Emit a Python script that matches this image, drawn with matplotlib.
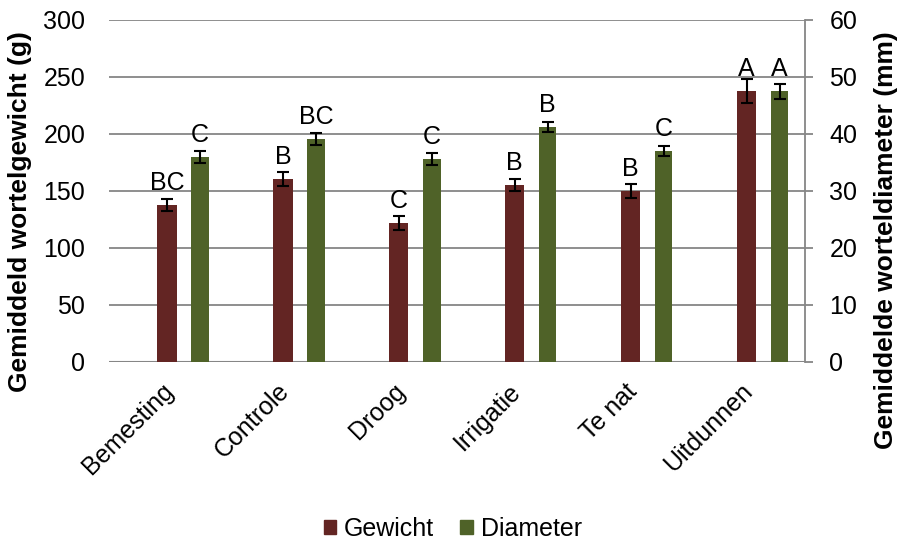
import numpy as np
import matplotlib
matplotlib.use('Agg')
import matplotlib.pyplot as plt
import matplotlib.transforms as mtransforms
from matplotlib.patches import Patch

plt.rcParams['font.family'] = ['Liberation Sans', 'DejaVu Sans']

# Data
categories = ['Bemesting', 'Controle', 'Droog', 'Irrigatie', 'Te nat', 'Uitdunnen']
gewicht = [137.5, 160.3, 121.7, 155.0, 149.7, 237.5]       # g
gewicht_err = [5.4, 6.4, 6.3, 5.5, 6.3, 10.5]
diameter = [35.9, 39.1, 35.6, 41.2, 37.0, 47.5]            # mm
diameter_err = [1.1, 1.1, 1.1, 0.9, 0.9, 1.3]
letters_gewicht = ['BC', 'B', 'C', 'B', 'B', 'A']
letters_diameter = ['C', 'BC', 'C', 'B', 'C', 'A']

RED = '#632523'
GREEN = '#4F6228'
GRID = '#868686'
FS = 18

fig = plt.figure(figsize=(9, 5.39), dpi=100)
ax = fig.add_axes([0.121, 0.329, 0.773, 0.634])
ax2 = ax.twinx()

x = np.arange(len(categories))

ax.bar(x, gewicht, width=0.167, color=RED, zorder=3)
ax.errorbar(x, gewicht, yerr=gewicht_err, fmt='none', ecolor='black',
            elinewidth=1.5, capsize=4.3, capthick=1.5, zorder=4)
ax2.bar(x + 0.285, diameter, width=0.15, color=GREEN, zorder=3)
ax2.errorbar(x + 0.285, diameter, yerr=diameter_err, fmt='none', ecolor='black',
             elinewidth=1.5, capsize=4.3, capthick=1.5, zorder=4)

for xi, v, lab in zip(x, gewicht, letters_gewicht):
    ax.annotate(lab, (xi, v), xytext=(0, 10.8), textcoords='offset points',
                ha='center', va='baseline', fontsize=FS)
for xi, v, lab in zip(x + 0.285, diameter, letters_diameter):
    ax2.annotate(lab, (xi, v), xytext=(0, 10.8), textcoords='offset points',
                 ha='center', va='baseline', fontsize=FS)

ax.set_xlim(-0.5, 5.5)
ax.set_ylim(0, 300)
ax2.set_ylim(0, 60)
ax.set_yticks(np.arange(0, 301, 50))
ax2.set_yticks(np.arange(0, 61, 10))

ax.yaxis.grid(True, color=GRID, linewidth=1.3, zorder=0)
ax.set_axisbelow(True)

for a in (ax, ax2):
    for s in ('top', 'left', 'bottom', 'right'):
        a.spines[s].set_visible(False)
ax2.spines['right'].set_visible(True)
ax2.spines['right'].set_color(GRID)
ax2.spines['right'].set_linewidth(1.3)
ax.axhline(0, color=GRID, linewidth=1.5, zorder=2)

ax.tick_params(axis='y', length=0, pad=17, labelsize=FS)
ax2.tick_params(axis='y', length=5.8, width=1.3, color=GRID, direction='out',
                pad=12, labelsize=FS)

ax.set_xticks(x)
ax.set_xticklabels(categories, rotation=45, ha='right', rotation_mode='anchor',
                   fontsize=FS)
ax.tick_params(axis='x', length=0, pad=14)
shift = mtransforms.ScaledTranslation(-6 / 100, 2 / 100, fig.dpi_scale_trans)
for lbl in ax.get_xticklabels():
    lbl.set_transform(lbl.get_transform() + shift)

ax.set_ylabel('Gemiddeld wortelgewicht (g)', fontsize=19, fontweight='bold',
              va='center')
ax.yaxis.set_label_coords(-0.128, 0.44)
ax2.set_ylabel('Gemiddelde worteldiameter (mm)', fontsize=19, fontweight='bold',
               va='center')
ax2.yaxis.set_label_coords(1.117, 0.355)

handles = [Patch(color=RED, label='Gewicht'), Patch(color=GREEN, label='Diameter')]
fig.legend(handles=handles, loc='center', bbox_to_anchor=(0.503, 0.019), ncol=2,
           frameon=False, fontsize=FS, handlelength=0.5, handleheight=0.5,
           handletextpad=0.32, columnspacing=1.04, borderpad=0)

fig.savefig('out.png', dpi=100)
